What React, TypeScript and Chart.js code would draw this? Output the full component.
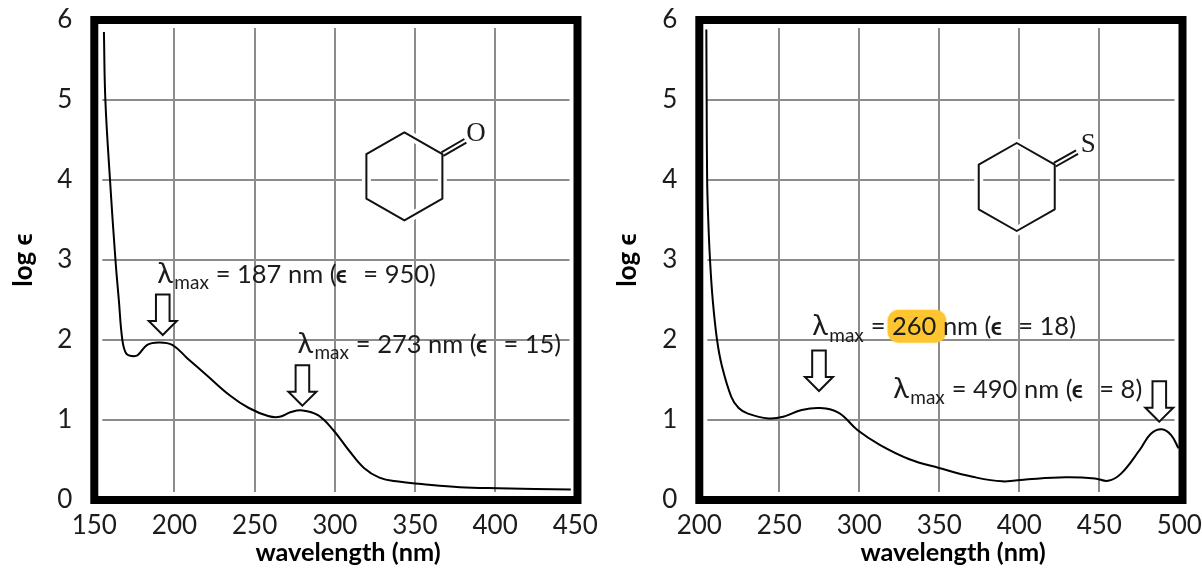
import React, { useEffect, useRef } from "react";
import { Chart, registerables } from "chart.js";

Chart.register(...registerables);

const FONT = "Lato";
const INK = "#1c1c1c";
const GRID = "#8c8c8c";

const ketoneWavelength = [156, 156.9, 159.8, 163.2, 165.3, 167.5, 169.9, 173.4, 177, 183, 190.2, 198.6, 208.1, 220.1, 234.4, 246.4, 258.4, 265.6, 272.7, 279.9, 289.5, 299, 308.6, 318.2, 327.8, 339.7, 354, 378, 401.9, 447.2];
const ketoneLogE = [5.85, 5, 4, 3, 2.5, 2, 1.83, 1.8, 1.81, 1.94, 1.97, 1.94, 1.77, 1.56, 1.31, 1.15, 1.05, 1.04, 1.1, 1.12, 1.06, 0.875, 0.625, 0.4, 0.28, 0.23, 0.2, 0.16, 0.146, 0.13];
const thioneWavelength = [204.4, 204.6, 204.9, 205.6, 206.7, 208.4, 211.1, 214.2, 220, 224.6, 230.4, 243.2, 252.4, 264, 275.6, 287.2, 298.8, 312.8, 331.3, 349.9, 370.8, 389.3, 405.6, 428.8, 447.3, 455.5, 463.6, 475.2, 482.1, 489.1, 494.9, 499.5];
const thioneLogE = [5.88, 5, 4, 3.5, 3, 2.5, 2, 1.67, 1.29, 1.15, 1.08, 1.02, 1.04, 1.125, 1.15, 1.09, 0.875, 0.69, 0.51, 0.4, 0.29, 0.233, 0.26, 0.283, 0.27, 0.24, 0.33, 0.625, 0.825, 0.883, 0.81, 0.646];

const xTitle = "wavelength (nm)";
const yTitle = "log ϵ";

type Note = { at: [number, number]; value: string; eps: string; highlight?: boolean };
type Panel = {
  left: number; width: number; areaLeft: number; paddingRight: number; frameExtra: number;
  xMin: number; xMax: number; xs: number[]; ys: number[];
  notes: Note[]; arrows: [number, number][];
  ring: [number, number]; hetero: string; bondEnd: [number, number]; labelAt: [number, number];
  titleCenter: number;
};

const panels: Panel[] = [
  {
    left: 0, width: 601, areaLeft: 94.3, paddingRight: 25.7, frameExtra: 2.2,
    xMin: 150, xMax: 450, xs: ketoneWavelength, ys: ketoneLogE,
    notes: [
      { at: [189.3, 2.716], value: "187", eps: "950" },
      { at: [276.7, 1.84], value: "273", eps: "15" },
    ],
    arrows: [[192.7, 2.0625], [279.8, 1.179]],
    ring: [343.4, 4.045], hetero: "O", bondEnd: [23, -13.3], labelAt: [71.7, -42],
    titleCenter: 348,
  },
  {
    left: 604, width: 598, areaLeft: 95.3, paddingRight: 22.7, frameExtra: 3.2,
    xMin: 200, xMax: 500, xs: thioneWavelength, ys: thioneLogE,
    notes: [
      { at: [270.6, 2.0625], value: "260", eps: "18", highlight: true },
      { at: [321.25, 1.279], value: "490", eps: "8" },
    ],
    arrows: [[274.8, 1.3625], [487.5, 0.979]],
    ring: [398.4, 3.9125], hetero: "S", bondEnd: [22.3, -12.6], labelAt: [71.6, -42],
    titleCenter: 349,
  },
];

function makeDecor(p: Panel) {
  return {
    id: "decor",
    beforeDatasetsDraw(chart: any) {
      const { ctx, chartArea: a } = chart;
      ctx.save();
      ctx.strokeStyle = "#fff";
      ctx.lineWidth = 16;
      ctx.strokeRect(a.left, a.top, a.right + p.frameExtra - a.left, a.bottom - a.top);
      const sx = chart.scales.x, sy = chart.scales.y;
      p.notes.forEach((n) => {
        if (!n.highlight) return;
        const x = sx.getPixelForValue(n.at[0]);
        const y = sy.getPixelForValue(n.at[1]);
        ctx.fillStyle = "#fdc52f";
        ctx.shadowColor = "#fdc52f";
        ctx.shadowBlur = 2;
        ctx.beginPath();
        ctx.roundRect(x + 75.5, y - 25, 58.4, 32.4, 11);
        ctx.fill();
      });
      ctx.restore();
    },
    afterDatasetsDraw(chart: any) {
      const { ctx } = chart;
      const sx = chart.scales.x, sy = chart.scales.y;
      ctx.save();
      ctx.textBaseline = "alphabetic";
      ctx.textAlign = "left";
      ctx.fillStyle = INK;
      p.notes.forEach((n) => {
        const x = sx.getPixelForValue(n.at[0]);
        const y = sy.getPixelForValue(n.at[1]);
        const main = `25.5px ${FONT}`;
        const put = (t: string, dx: number, font: string, dy = 0) => {
          ctx.font = font;
          ctx.fillText(t, x + dx, y + dy);
        };
        put("λ", 0, `29px ${FONT}`);
        put("max", 17, `19px ${FONT}`, 6.6);
        put(`= ${n.value} nm (`, 58.4, main);
        put("ϵ", 178.5, `bold 24px ${FONT}`);
        put(`= ${n.eps})`, 206, main);
      });
      ctx.lineWidth = 2;
      ctx.lineJoin = "miter";
      ctx.strokeStyle = "#111";
      p.arrows.forEach((ar) => {
        const x = sx.getPixelForValue(ar[0]);
        const y = sy.getPixelForValue(ar[1]);
        ctx.beginPath();
        ctx.moveTo(x, y);
        ctx.lineTo(x - 14, y - 14);
        ctx.lineTo(x - 6.8, y - 14);
        ctx.lineTo(x - 6.8, y - 40.5);
        ctx.lineTo(x + 6.8, y - 40.5);
        ctx.lineTo(x + 6.8, y - 14);
        ctx.lineTo(x + 14, y - 14);
        ctx.closePath();
        ctx.fillStyle = "#fff";
        ctx.fill();
        ctx.stroke();
      });
      const cx = sx.getPixelForValue(p.ring[0]);
      const cy = sy.getPixelForValue(p.ring[1]);
      const rx = 38, ry = 44, my = 22.3;
      const hex = () => {
        ctx.beginPath();
        ctx.moveTo(cx - rx, cy - my);
        ctx.lineTo(cx, cy - ry);
        ctx.lineTo(cx + rx, cy - my);
        ctx.lineTo(cx + rx, cy + my);
        ctx.lineTo(cx, cy + ry);
        ctx.lineTo(cx - rx, cy + my);
        ctx.closePath();
      };
      hex();
      ctx.strokeStyle = "#fff";
      ctx.lineWidth = 9;
      ctx.lineJoin = "round";
      ctx.stroke();
      hex();
      ctx.strokeStyle = "#111";
      ctx.lineWidth = 2;
      ctx.stroke();
      const bx = cx + rx, by = cy - my;
      [-2, 2].forEach((o) => {
        ctx.beginPath();
        ctx.moveTo(bx + o * 0.5, by + o * 0.9);
        ctx.lineTo(bx + p.bondEnd[0] + o * 0.5, by + p.bondEnd[1] + o * 0.9);
        ctx.stroke();
      });
      ctx.fillStyle = INK;
      ctx.font = "27px 'Liberation Serif'";
      ctx.textAlign = "center";
      ctx.textBaseline = "middle";
      ctx.fillText(p.hetero, cx + p.labelAt[0], cy + p.labelAt[1]);
      ctx.restore();
    },
    afterDraw(chart: any) {
      const { ctx, chartArea: a } = chart;
      ctx.save();
      ctx.strokeStyle = "#000";
      ctx.lineWidth = 8;
      ctx.lineJoin = "miter";
      ctx.strokeRect(a.left, a.top, a.right + p.frameExtra - a.left, a.bottom - a.top);
      ctx.fillStyle = "#000";
      ctx.font = `bold 25.3px ${FONT}`;
      ctx.textAlign = "center";
      ctx.textBaseline = "middle";
      ctx.fillText(xTitle, p.titleCenter, 553);
      ctx.restore();
    },
  };
}

function ChartPanel({ p }: { p: Panel }) {
  const ref = useRef<HTMLCanvasElement | null>(null);
  useEffect(() => {
    const chart = new Chart(ref.current as HTMLCanvasElement, {
      type: "line",
      data: {
        datasets: [
          {
            data: p.xs.map((x, i) => ({ x, y: p.ys[i] })),
            borderColor: "#000",
            borderWidth: 2,
            pointRadius: 0,
            tension: 0.4,
            fill: false,
          },
        ],
      },
      options: {
        animation: false,
        responsive: false,
        layout: { autoPadding: false, padding: { top: 20, left: 0, right: p.paddingRight, bottom: 0 } },
        plugins: { legend: { display: false }, tooltip: { enabled: false } },
        scales: {
          x: {
            type: "linear",
            min: p.xMin,
            max: p.xMax,
            afterFit: (s: any) => { s.height = 68; s.paddingLeft = 0; s.paddingRight = 0; },
            border: { display: false },
            grid: { color: GRID, lineWidth: 2, drawTicks: false },
            ticks: { stepSize: 50, maxRotation: 0, autoSkip: false, padding: 10, color: INK, font: { family: FONT, size: 26 } },
          },
          y: {
            type: "linear",
            min: 0,
            max: 6,
            afterFit: (s: any) => { s.width = p.areaLeft; s.paddingTop = 0; s.paddingBottom = 0; },
            border: { display: false },
            grid: { color: GRID, lineWidth: 2, drawTicks: false },
            ticks: { stepSize: 1, padding: 22, color: INK, font: { family: FONT, size: 26 } },
            title: { display: true, text: yTitle, color: "#000", padding: { top: 8, bottom: 0 }, font: { family: FONT, size: 26, weight: "bold" } },
          },
        },
      },
      plugins: [makeDecor(p)],
    } as any);
    return () => chart.destroy();
  }, [p]);
  return (
    <canvas
      ref={ref}
      width={p.width}
      height={568}
      style={{ position: "absolute", left: p.left, top: 0, width: p.width, height: 568 }}
    />
  );
}

export default function App() {
  return (
    <div style={{ position: "fixed", left: 0, top: 0, width: 1202, height: 568, overflow: "hidden", background: "#fff" }}>
      {panels.map((p, i) => (
        <ChartPanel key={i} p={p} />
      ))}
    </div>
  );
}
